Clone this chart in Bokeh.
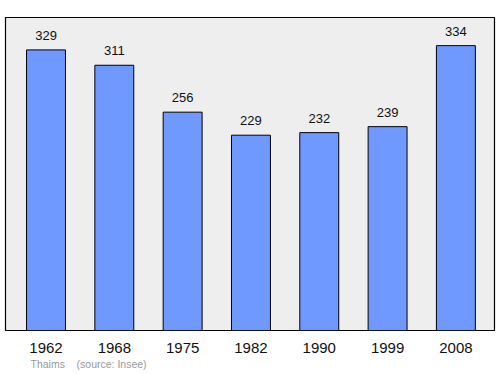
from bokeh.plotting import figure
from bokeh.models import FixedTicker, Range1d, Title, ColumnDataSource
from bokeh.core.properties import value
from bokeh.embed import file_html
from bokeh.resources import INLINE

years = ["1962", "1968", "1975", "1982", "1990", "1999", "2008"]
population = [329, 311, 256, 229, 232, 239, 334]
town = "Thaims"
source_note = "(source: Insee)"

idx = list(range(len(years)))
src = ColumnDataSource(dict(x=idx, top=population, lab=[str(v) for v in population]))

p = figure(width=500, height=374, output_backend="svg", toolbar_location=None,
           x_range=Range1d(-0.593, 6.565), y_range=Range1d(0, 367),
           min_border_left=5, min_border_right=6, min_border_top=17, min_border_bottom=44)
p.background_fill_color = "#eeeeee"
p.border_fill_color = "white"
p.outline_line_color = "black"
p.outline_line_width = 1.2
p.grid.visible = False
p.yaxis.visible = False

p.vbar(x="x", top="top", width=0.57, bottom=0, source=src,
       fill_color="#7099ff", line_color="black", line_width=1)
p.text(x="x", y="top", text="lab", source=src, text_align="center", text_baseline="bottom",
       y_offset=-10, text_font=value("Liberation Sans"), text_font_size="13px", text_color="#111111")

xa = p.xaxis[0]
xa.ticker = FixedTicker(ticks=idx)
xa.major_label_overrides = {i: y for i, y in zip(idx, years)}
xa.axis_line_color = None
xa.major_tick_line_color = None
xa.minor_tick_line_color = None
xa.major_label_standoff = 6
xa.major_label_text_font = "Liberation Sans"
xa.major_label_text_font_size = "15px"
xa.major_label_text_color = "#111111"

footer = Title(text=town + "\u00a0\u00a0\u00a0\u00a0" + source_note, align="left", offset=25,
               text_font="Liberation Sans", text_font_size="10.5px", text_font_style="normal",
               text_color="#999999", standoff=0)
p.add_layout(footer, "below")

open("out.html", "w").write(file_html(p, INLINE))
